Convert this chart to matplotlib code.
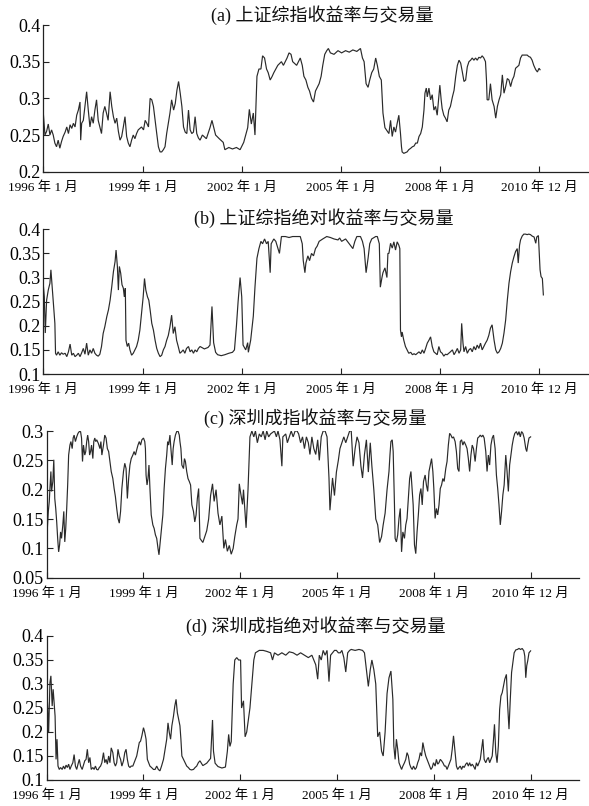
import matplotlib
matplotlib.use('Agg')
import matplotlib.pyplot as plt
from matplotlib.ticker import FuncFormatter

plt.rcParams['font.family'] = ['Liberation Serif', 'Noto Sans CJK SC']

# ---------------- data ----------------
tick_years = [1996, 1999, 2002, 2005, 2008, 2011]
tick_labels = ['1996 年 1 月', '1999 年 1 月', '2002 年 1 月', '2005 年 1 月', '2008 年 1 月', '2010 年 12 月']
titles = ['(a) 上证综指收益率与交易量', '(b) 上证综指绝对收益率与交易量',
          '(c) 深圳成指收益率与交易量', '(d) 深圳成指绝对收益率与交易量']

a_year = [1996.00, 1996.05, 1996.10, 1996.15, 1996.20, 1996.25, 1996.30, 1996.35, 1996.40, 1996.45,
          1996.50, 1996.55, 1996.60, 1996.66, 1996.71, 1996.76, 1996.81, 1996.86, 1996.91, 1996.96,
          1997.01, 1997.06, 1997.11, 1997.13, 1997.16, 1997.21, 1997.26, 1997.31, 1997.36, 1997.41,
          1997.46, 1997.51, 1997.56, 1997.61, 1997.66, 1997.71, 1997.76, 1997.81, 1997.86, 1997.91,
          1997.96, 1998.02, 1998.07, 1998.12, 1998.17, 1998.22, 1998.27, 1998.32, 1998.37, 1998.42,
          1998.47, 1998.52, 1998.57, 1998.62, 1998.67, 1998.72, 1998.77, 1998.82, 1998.87, 1998.92,
          1998.97, 1999.03, 1999.08, 1999.13, 1999.18, 1999.23, 1999.28, 1999.33, 1999.38, 1999.43,
          1999.48, 1999.53, 1999.58, 1999.63, 1999.68, 1999.73, 1999.78, 1999.83, 1999.88, 1999.94,
          1999.99, 2000.04, 2000.09, 2000.14, 2000.19, 2000.24, 2000.29, 2000.34, 2000.39, 2000.44,
          2000.49, 2000.54, 2000.59, 2000.64, 2000.69, 2000.74,
          2000.81, 2000.93, 2001.04, 2001.10, 2001.21, 2001.32, 2001.44, 2001.49, 2001.61, 2001.72,
          2001.84, 2001.95, 2002.06, 2002.12, 2002.18, 2002.23, 2002.29, 2002.35, 2002.40, 2002.46,
          2002.52, 2002.58, 2002.63, 2002.69, 2002.75, 2002.80, 2002.86, 2002.92, 2002.97, 2003.09,
          2003.20, 2003.26, 2003.37, 2003.43, 2003.49, 2003.54, 2003.66, 2003.77, 2003.83, 2003.88,
          2003.94, 2004.00, 2004.05, 2004.11, 2004.17, 2004.23, 2004.34, 2004.40, 2004.45, 2004.51,
          2004.57, 2004.62, 2004.68, 2004.79, 2004.91, 2005.02, 2005.14, 2005.25, 2005.36, 2005.48,
          2005.59, 2005.65, 2005.70, 2005.76, 2005.82, 2005.87, 2005.93, 2005.99, 2006.05, 2006.10,
          2006.16, 2006.22, 2006.27, 2006.33,
          2006.45, 2006.50, 2006.55, 2006.60, 2006.65, 2006.70, 2006.75, 2006.80, 2006.83, 2006.85,
          2006.90, 2006.95, 2007.00, 2007.05, 2007.11, 2007.16, 2007.21, 2007.26, 2007.31, 2007.36,
          2007.41, 2007.46, 2007.51, 2007.54, 2007.58, 2007.61, 2007.66, 2007.71, 2007.76, 2007.81,
          2007.86, 2007.91, 2007.96, 2007.99, 2008.03, 2008.06, 2008.11, 2008.16, 2008.21, 2008.26,
          2008.31, 2008.37, 2008.42, 2008.47, 2008.52, 2008.57, 2008.62, 2008.67, 2008.72, 2008.77,
          2008.82, 2008.87, 2008.92, 2008.97, 2009.02, 2009.07, 2009.12, 2009.17, 2009.22, 2009.27,
          2009.32, 2009.37, 2009.40, 2009.42, 2009.47, 2009.52, 2009.57, 2009.63, 2009.68, 2009.73,
          2009.78, 2009.83, 2009.88, 2009.93, 2009.98, 2010.03, 2010.08, 2010.13, 2010.18, 2010.23,
          2010.28, 2010.33, 2010.38, 2010.43, 2010.48, 2010.53, 2010.58, 2010.63, 2010.68, 2010.73,
          2010.78, 2010.83, 2010.89, 2010.94, 2010.99, 2011.02]
a_val = [0.280, 0.250, 0.255, 0.265, 0.250, 0.257, 0.250, 0.239, 0.234, 0.243,
         0.232, 0.241, 0.248, 0.254, 0.261, 0.252, 0.264, 0.259, 0.266, 0.261,
         0.277, 0.284, 0.295, 0.243, 0.266, 0.270, 0.289, 0.309, 0.284, 0.261,
         0.275, 0.266, 0.284, 0.298, 0.270, 0.261, 0.252, 0.280, 0.289, 0.280,
         0.270, 0.309, 0.289, 0.275, 0.266, 0.273, 0.255, 0.243, 0.248, 0.261,
         0.275, 0.248, 0.239, 0.234, 0.243, 0.250, 0.245, 0.252, 0.257, 0.259,
         0.261, 0.257, 0.270, 0.266, 0.261, 0.300, 0.298, 0.289, 0.270, 0.252,
         0.234, 0.227, 0.227, 0.230, 0.234, 0.252, 0.266, 0.280, 0.298, 0.284,
         0.293, 0.311, 0.323, 0.307, 0.289, 0.261, 0.254, 0.252, 0.284, 0.257,
         0.252, 0.254, 0.275, 0.252, 0.246, 0.243,
         0.250, 0.245, 0.260, 0.270, 0.250, 0.245, 0.240, 0.230, 0.233, 0.231,
         0.233, 0.230, 0.240, 0.250, 0.260, 0.285, 0.265, 0.280, 0.250, 0.330,
         0.340, 0.340, 0.358, 0.355, 0.340, 0.335, 0.325, 0.330, 0.335, 0.345,
         0.350, 0.345, 0.355, 0.362, 0.360, 0.350, 0.345, 0.355, 0.345, 0.330,
         0.325, 0.315, 0.310, 0.300, 0.295, 0.310, 0.320, 0.330, 0.345, 0.360,
         0.365, 0.368, 0.362, 0.360, 0.365, 0.362, 0.365, 0.363, 0.366, 0.364,
         0.368, 0.355, 0.350, 0.320, 0.315, 0.325, 0.335, 0.340, 0.355, 0.345,
         0.330, 0.325, 0.280, 0.260,
         0.252, 0.270, 0.248, 0.261, 0.254, 0.266, 0.277, 0.252, 0.234, 0.227,
         0.225, 0.226, 0.227, 0.230, 0.232, 0.234, 0.235, 0.239, 0.239, 0.248,
         0.252, 0.261, 0.284, 0.307, 0.314, 0.302, 0.314, 0.298, 0.305, 0.284,
         0.289, 0.277, 0.302, 0.318, 0.298, 0.286, 0.277, 0.273, 0.268, 0.284,
         0.289, 0.302, 0.311, 0.330, 0.345, 0.352, 0.348, 0.336, 0.323, 0.325,
         0.343, 0.350, 0.352, 0.355, 0.352, 0.355, 0.352, 0.356, 0.355, 0.358,
         0.355, 0.350, 0.325, 0.298, 0.298, 0.320, 0.298, 0.289, 0.273, 0.289,
         0.298, 0.305, 0.332, 0.307, 0.316, 0.327, 0.325, 0.316, 0.325, 0.330,
         0.341, 0.343, 0.345, 0.355, 0.359, 0.359, 0.359, 0.359, 0.357, 0.356,
         0.352, 0.345, 0.339, 0.336, 0.341, 0.339]

b_year = [1996.00, 1996.03, 1996.06, 1996.10, 1996.15, 1996.20, 1996.23, 1996.27, 1996.30, 1996.33,
          1996.35, 1996.37, 1996.40, 1996.45, 1996.50, 1996.55, 1996.60, 1996.66, 1996.71, 1996.76,
          1996.81, 1996.86, 1996.91, 1996.96, 1997.01, 1997.06, 1997.11, 1997.16, 1997.21, 1997.26,
          1997.31, 1997.36, 1997.41, 1997.46, 1997.51, 1997.56, 1997.61, 1997.66, 1997.71, 1997.76,
          1997.81, 1997.86, 1997.92, 1997.97, 1998.02, 1998.07, 1998.12, 1998.17, 1998.20, 1998.24,
          1998.27, 1998.30, 1998.34, 1998.38, 1998.42, 1998.45, 1998.48, 1998.50, 1998.54, 1998.58,
          1998.62, 1998.67, 1998.72, 1998.77, 1998.82, 1998.87, 1998.92, 1998.97, 1999.02, 1999.06,
          1999.10, 1999.15, 1999.19, 1999.23, 1999.28, 1999.33, 1999.38, 1999.43, 1999.48, 1999.53,
          1999.58, 1999.63, 1999.68, 1999.73, 1999.78, 1999.83, 1999.88, 1999.93, 1999.98, 2000.03,
          2000.08, 2000.13, 2000.18, 2000.23, 2000.28, 2000.33, 2000.39, 2000.44, 2000.49, 2000.54,
          2000.59, 2000.64, 2000.69, 2000.74,
          2000.87, 2000.98, 2001.04, 2001.10, 2001.15, 2001.21, 2001.27, 2001.38, 2001.49, 2001.61,
          2001.72, 2001.78, 2001.84, 2001.89, 2001.95, 2002.00, 2002.04, 2002.12, 2002.18, 2002.20,
          2002.27, 2002.35, 2002.40, 2002.46, 2002.52, 2002.58, 2002.63, 2002.69, 2002.75, 2002.80,
          2002.86, 2002.89, 2002.97, 2003.03, 2003.14, 2003.20, 2003.32, 2003.43, 2003.54, 2003.66,
          2003.77, 2003.83, 2003.86, 2003.91, 2003.94, 2004.00, 2004.05, 2004.11, 2004.17, 2004.23,
          2004.28, 2004.34, 2004.45, 2004.57, 2004.68, 2004.79, 2004.91, 2004.96, 2005.02, 2005.14,
          2005.25, 2005.36, 2005.42, 2005.48, 2005.59, 2005.65, 2005.70, 2005.76, 2005.82, 2005.87,
          2005.93, 2006.05, 2006.10, 2006.16, 2006.19, 2006.24, 2006.27, 2006.33, 2006.39, 2006.42,
          2006.45, 2006.50, 2006.55, 2006.60, 2006.65, 2006.70, 2006.75, 2006.78, 2006.80, 2006.83,
          2006.85, 2006.90, 2006.95, 2007.00, 2007.05, 2007.11, 2007.16, 2007.21, 2007.26, 2007.31,
          2007.36, 2007.41, 2007.46, 2007.51, 2007.56, 2007.61, 2007.66, 2007.71, 2007.76, 2007.81,
          2007.86, 2007.91, 2007.96, 2008.01, 2008.06, 2008.11, 2008.16, 2008.21, 2008.26, 2008.31,
          2008.37, 2008.42, 2008.47, 2008.52, 2008.57, 2008.62, 2008.65, 2008.69, 2008.72, 2008.77,
          2008.82, 2008.87, 2008.92, 2008.97, 2009.02, 2009.07, 2009.12, 2009.17, 2009.22, 2009.27,
          2009.32, 2009.37, 2009.42, 2009.47, 2009.52, 2009.57, 2009.63, 2009.68, 2009.73, 2009.78,
          2009.83, 2009.88, 2009.93, 2009.98, 2010.03, 2010.08, 2010.13, 2010.18, 2010.23, 2010.28,
          2010.33, 2010.36, 2010.40, 2010.43, 2010.48, 2010.53, 2010.58, 2010.63, 2010.68, 2010.73,
          2010.78, 2010.84, 2010.89, 2010.92, 2010.97, 2010.99, 2011.02, 2011.05, 2011.09, 2011.12]
b_val = [0.285, 0.260, 0.185, 0.253, 0.274, 0.288, 0.316, 0.280, 0.253, 0.226,
         0.205, 0.143, 0.139, 0.146, 0.139, 0.144, 0.141, 0.143, 0.136, 0.146,
         0.162, 0.139, 0.143, 0.136, 0.139, 0.143, 0.136, 0.144, 0.153, 0.141,
         0.164, 0.139, 0.150, 0.143, 0.153, 0.143, 0.139, 0.137, 0.141, 0.157,
         0.184, 0.198, 0.219, 0.233, 0.253, 0.281, 0.312, 0.333, 0.357, 0.323,
         0.274, 0.323, 0.309, 0.285, 0.278, 0.260, 0.278, 0.170, 0.157, 0.164,
         0.150, 0.139, 0.143, 0.150, 0.157, 0.170, 0.191, 0.226, 0.260, 0.298,
         0.274, 0.260, 0.253, 0.233, 0.205, 0.191, 0.170, 0.153, 0.143, 0.136,
         0.139, 0.150, 0.157, 0.170, 0.180, 0.198, 0.222, 0.184, 0.198, 0.170,
         0.157, 0.143, 0.146, 0.150, 0.143, 0.153, 0.157, 0.146, 0.150, 0.143,
         0.150, 0.146, 0.153, 0.157,
         0.152, 0.155, 0.160, 0.240, 0.165, 0.145, 0.140, 0.138, 0.140, 0.143,
         0.145, 0.150, 0.200, 0.250, 0.300, 0.260, 0.160, 0.150, 0.165, 0.145,
         0.170, 0.220, 0.280, 0.340, 0.360, 0.375, 0.370, 0.380, 0.370, 0.375,
         0.310, 0.370, 0.380, 0.375, 0.350, 0.385, 0.385, 0.383, 0.385, 0.385,
         0.385, 0.370, 0.335, 0.310, 0.330, 0.345, 0.335, 0.350, 0.345, 0.360,
         0.365, 0.375, 0.380, 0.385, 0.383, 0.380, 0.378, 0.382, 0.375, 0.380,
         0.370, 0.360, 0.375, 0.385, 0.385, 0.375, 0.360, 0.310, 0.340, 0.370,
         0.380, 0.385, 0.385, 0.370, 0.280, 0.300, 0.310, 0.320, 0.300, 0.350,
         0.350, 0.371, 0.361, 0.374, 0.357, 0.374, 0.367, 0.360, 0.191, 0.177,
         0.187, 0.170, 0.157, 0.150, 0.143, 0.145, 0.140, 0.142, 0.140, 0.143,
         0.146, 0.142, 0.150, 0.143, 0.153, 0.164, 0.170, 0.177, 0.157, 0.146,
         0.143, 0.140, 0.157, 0.146, 0.143, 0.137, 0.141, 0.140, 0.143, 0.146,
         0.150, 0.140, 0.146, 0.153, 0.143, 0.150, 0.205, 0.164, 0.146, 0.157,
         0.143, 0.150, 0.153, 0.146, 0.157, 0.150, 0.160, 0.153, 0.164, 0.150,
         0.157, 0.164, 0.170, 0.180, 0.195, 0.202, 0.170, 0.150, 0.143, 0.146,
         0.153, 0.164, 0.185, 0.212, 0.253, 0.288, 0.312, 0.330, 0.343, 0.354,
         0.360, 0.330, 0.367, 0.378, 0.386, 0.390, 0.390, 0.389, 0.390, 0.389,
         0.386, 0.384, 0.371, 0.384, 0.387, 0.357, 0.316, 0.302, 0.298, 0.264]

c_year = [1996.00, 1996.02, 1996.05, 1996.08, 1996.10, 1996.13, 1996.15, 1996.19, 1996.22, 1996.25,
          1996.28, 1996.31, 1996.34, 1996.37, 1996.40, 1996.43, 1996.46, 1996.50, 1996.53, 1996.56,
          1996.59, 1996.62, 1996.65, 1996.68, 1996.72, 1996.75, 1996.79, 1996.82, 1996.85, 1996.89,
          1996.93, 1996.97, 1997.01, 1997.05, 1997.08, 1997.11, 1997.14, 1997.18, 1997.21, 1997.24,
          1997.27, 1997.30, 1997.33, 1997.36, 1997.39, 1997.43, 1997.46, 1997.49, 1997.52, 1997.55,
          1997.60, 1997.65, 1997.68, 1997.71, 1997.76, 1997.80, 1997.84, 1997.88, 1997.92, 1997.96,
          1998.00, 1998.05, 1998.09, 1998.13, 1998.17, 1998.21, 1998.25, 1998.29, 1998.33, 1998.38,
          1998.42, 1998.46, 1998.50, 1998.54, 1998.58, 1998.62, 1998.67, 1998.71, 1998.75, 1998.79,
          1998.83, 1998.87, 1998.91, 1998.95, 1999.00, 1999.04, 1999.06, 1999.08, 1999.11, 1999.14,
          1999.17, 1999.20, 1999.24, 1999.29, 1999.33, 1999.37, 1999.41, 1999.45, 1999.48, 1999.51,
          1999.55, 1999.60, 1999.64, 1999.68, 1999.72, 1999.75, 1999.78, 1999.82, 1999.85, 1999.89,
          1999.92, 1999.95, 1999.99, 2000.03, 2000.07, 2000.11, 2000.13, 2000.16, 2000.19, 2000.24,
          2000.27, 2000.30, 2000.34, 2000.38, 2000.42, 2000.46, 2000.50, 2000.55, 2000.59, 2000.63,
          2000.67, 2000.71, 2000.75,
          2000.84, 2000.90, 2000.96, 2001.02, 2001.08, 2001.14, 2001.19, 2001.25, 2001.31, 2001.37,
          2001.43, 2001.49, 2001.54, 2001.60, 2001.66, 2001.72, 2001.78, 2001.83, 2001.89, 2001.93,
          2001.97, 2002.01, 2002.07, 2002.10, 2002.15, 2002.18, 2002.24, 2002.30, 2002.36, 2002.42,
          2002.47, 2002.53, 2002.59, 2002.65, 2002.71, 2002.77, 2002.82, 2002.88, 2002.94, 2003.06,
          2003.12, 2003.17, 2003.23, 2003.29, 2003.32, 2003.41, 2003.46, 2003.52, 2003.58, 2003.64,
          2003.70, 2003.76, 2003.81, 2003.87, 2003.93, 2003.99, 2004.05, 2004.11, 2004.16, 2004.22,
          2004.28, 2004.34, 2004.40, 2004.45, 2004.51, 2004.57, 2004.63, 2004.69, 2004.75, 2004.78,
          2004.83, 2004.86, 2004.92, 2004.98, 2005.04, 2005.09, 2005.15, 2005.21, 2005.27, 2005.33,
          2005.39, 2005.44, 2005.50, 2005.56, 2005.62, 2005.68, 2005.74, 2005.79, 2005.85, 2005.91,
          2005.97, 2006.03, 2006.08, 2006.14, 2006.20, 2006.26, 2006.32, 2006.38, 2006.43, 2006.49,
          2006.55,
          2006.61, 2006.64, 2006.67, 2006.71, 2006.74, 2006.78, 2006.80, 2006.84, 2006.88, 2006.92,
          2006.96, 2007.00, 2007.04, 2007.09, 2007.13, 2007.17, 2007.21, 2007.25, 2007.29, 2007.33,
          2007.36, 2007.40, 2007.44, 2007.48, 2007.52, 2007.56, 2007.60, 2007.64, 2007.68, 2007.73,
          2007.77, 2007.81, 2007.85, 2007.89, 2007.93, 2007.97, 2008.00, 2008.04, 2008.08, 2008.12,
          2008.16, 2008.20, 2008.24, 2008.28, 2008.32, 2008.37, 2008.41, 2008.45, 2008.49, 2008.53,
          2008.57, 2008.61, 2008.66, 2008.70, 2008.74, 2008.78, 2008.82, 2008.86, 2008.90, 2008.94,
          2008.99, 2009.03, 2009.07, 2009.11, 2009.15, 2009.19, 2009.23, 2009.28, 2009.32, 2009.36,
          2009.40, 2009.44, 2009.48, 2009.52, 2009.56, 2009.61, 2009.65, 2009.69, 2009.73, 2009.77,
          2009.81, 2009.85, 2009.90, 2009.94, 2009.98, 2010.02, 2010.06, 2010.10, 2010.14, 2010.18,
          2010.23, 2010.27, 2010.31, 2010.35, 2010.39, 2010.43, 2010.47, 2010.51, 2010.56, 2010.60,
          2010.64, 2010.68, 2010.72, 2010.76, 2010.80, 2010.85, 2010.88, 2010.91, 2010.95, 2011.00]
c_val = [0.174, 0.134, 0.163, 0.180, 0.202, 0.231, 0.197, 0.214, 0.251, 0.185,
         0.168, 0.145, 0.117, 0.094, 0.106, 0.128, 0.117, 0.140, 0.163, 0.111,
         0.134, 0.168, 0.208, 0.259, 0.276, 0.282, 0.270, 0.288, 0.293, 0.282,
         0.290, 0.296, 0.299, 0.299, 0.288, 0.248, 0.276, 0.259, 0.265, 0.282,
         0.293, 0.282, 0.259, 0.265, 0.276, 0.253, 0.282, 0.288, 0.282, 0.285,
         0.279, 0.270, 0.282, 0.259, 0.276, 0.293, 0.288, 0.270, 0.265, 0.248,
         0.231, 0.219, 0.202, 0.188, 0.168, 0.151, 0.143, 0.163, 0.202, 0.231,
         0.245, 0.236, 0.185, 0.219, 0.242, 0.253, 0.259, 0.265, 0.259, 0.268,
         0.276, 0.282, 0.276, 0.285, 0.288, 0.282, 0.270, 0.225, 0.208, 0.219,
         0.242, 0.202, 0.157, 0.140, 0.134, 0.123, 0.117, 0.100, 0.089, 0.106,
         0.128, 0.157, 0.202, 0.236, 0.259, 0.282, 0.276, 0.293, 0.270, 0.242,
         0.270, 0.282, 0.293, 0.299, 0.300, 0.293, 0.282, 0.270, 0.242, 0.236,
         0.253, 0.248, 0.231, 0.219, 0.214, 0.208, 0.174, 0.163, 0.145, 0.157,
         0.185, 0.202, 0.117,
         0.110, 0.120, 0.130, 0.150, 0.190, 0.210, 0.180, 0.200, 0.160, 0.140,
         0.155, 0.100, 0.115, 0.095, 0.105, 0.090, 0.100, 0.120, 0.140, 0.150,
         0.210, 0.195, 0.175, 0.200, 0.160, 0.135, 0.200, 0.290, 0.300, 0.290,
         0.300, 0.280, 0.295, 0.290, 0.300, 0.285, 0.300, 0.290, 0.295, 0.300,
         0.290, 0.300, 0.285, 0.240, 0.290, 0.295, 0.280, 0.290, 0.300, 0.290,
         0.300, 0.300, 0.295, 0.280, 0.290, 0.270, 0.290, 0.280, 0.260, 0.290,
         0.270, 0.260, 0.285, 0.250, 0.290, 0.300, 0.300, 0.290, 0.220, 0.165,
         0.200, 0.220, 0.190, 0.230, 0.250, 0.270, 0.280, 0.290, 0.280, 0.290,
         0.300, 0.300, 0.240, 0.270, 0.290, 0.280, 0.240, 0.220, 0.260, 0.285,
         0.230, 0.280, 0.240, 0.200, 0.150, 0.140, 0.110, 0.120, 0.140, 0.160,
         0.200,
         0.231, 0.259, 0.282, 0.285, 0.265, 0.174, 0.117, 0.111, 0.123, 0.151,
         0.168, 0.094, 0.128, 0.117, 0.140, 0.151, 0.185, 0.219, 0.231, 0.197,
         0.174, 0.106, 0.091, 0.128, 0.157, 0.191, 0.202, 0.174, 0.214, 0.225,
         0.208, 0.197, 0.231, 0.242, 0.253, 0.231, 0.202, 0.151, 0.168, 0.157,
         0.174, 0.202, 0.208, 0.219, 0.214, 0.236, 0.248, 0.276, 0.296, 0.293,
         0.288, 0.290, 0.282, 0.265, 0.236, 0.231, 0.282, 0.285, 0.276, 0.282,
         0.276, 0.270, 0.253, 0.231, 0.259, 0.276, 0.270, 0.248, 0.270, 0.288,
         0.290, 0.293, 0.290, 0.293, 0.288, 0.265, 0.231, 0.259, 0.242, 0.276,
         0.288, 0.293, 0.270, 0.225, 0.202, 0.174, 0.140, 0.163, 0.191, 0.208,
         0.259, 0.231, 0.197, 0.242, 0.259, 0.276, 0.288, 0.296, 0.299, 0.293,
         0.299, 0.290, 0.299, 0.296, 0.288, 0.270, 0.265, 0.276, 0.288, 0.290]

d_year = [1996.00, 1996.03, 1996.06, 1996.10, 1996.13, 1996.17, 1996.20, 1996.23, 1996.26, 1996.29,
          1996.32, 1996.35, 1996.39, 1996.43, 1996.48, 1996.52, 1996.56, 1996.60, 1996.64, 1996.68,
          1996.72, 1996.76, 1996.81, 1996.85, 1996.89, 1996.93, 1996.97, 1997.01, 1997.05, 1997.10,
          1997.14, 1997.18, 1997.22, 1997.26, 1997.30, 1997.34, 1997.38, 1997.43, 1997.47, 1997.51,
          1997.55, 1997.59, 1997.63, 1997.67, 1997.71, 1997.76, 1997.80, 1997.84, 1997.88, 1997.92,
          1997.96, 1998.00, 1998.05, 1998.09, 1998.13, 1998.17, 1998.21, 1998.25, 1998.29, 1998.33,
          1998.38, 1998.42, 1998.46, 1998.50, 1998.54, 1998.58, 1998.62, 1998.67, 1998.71, 1998.75,
          1998.79, 1998.83, 1998.87, 1998.91, 1998.95, 1999.00, 1999.04, 1999.08, 1999.12, 1999.16,
          1999.20, 1999.25, 1999.31, 1999.36, 1999.41, 1999.46, 1999.51, 1999.56, 1999.62, 1999.67,
          1999.72, 1999.76, 1999.80, 1999.84, 1999.88, 1999.93, 1999.97, 2000.01, 2000.05, 2000.09,
          2000.13, 2000.16, 2000.19, 2000.24, 2000.29, 2000.34, 2000.39, 2000.44, 2000.49, 2000.55,
          2000.60, 2000.65, 2000.70, 2000.75,
          2000.84, 2000.96, 2001.02, 2001.08, 2001.14, 2001.17, 2001.22, 2001.31, 2001.43, 2001.54,
          2001.60, 2001.64, 2001.68, 2001.72, 2001.78, 2001.83, 2001.89, 2001.95, 2002.01, 2002.04,
          2002.10, 2002.15, 2002.20, 2002.24, 2002.30, 2002.36, 2002.42, 2002.47, 2002.59, 2002.71,
          2002.82, 2002.94, 2003.00, 2003.06, 2003.17, 2003.29, 2003.41, 2003.52, 2003.64, 2003.76,
          2003.87, 2003.99, 2004.11, 2004.22, 2004.34, 2004.40, 2004.45, 2004.51, 2004.57, 2004.63,
          2004.69, 2004.75, 2004.80, 2004.86, 2004.92, 2004.98, 2005.04, 2005.10, 2005.15, 2005.21,
          2005.27, 2005.33, 2005.39, 2005.44, 2005.56, 2005.68, 2005.79, 2005.85, 2005.91, 2005.97,
          2006.03, 2006.08, 2006.14, 2006.20, 2006.26, 2006.32, 2006.38, 2006.43, 2006.49, 2006.55,
          2006.61, 2006.64, 2006.67, 2006.70, 2006.73, 2006.76, 2006.80, 2006.84, 2006.88, 2006.92,
          2006.96, 2007.00, 2007.04, 2007.09, 2007.13, 2007.17, 2007.21, 2007.25, 2007.29, 2007.33,
          2007.37, 2007.42, 2007.46, 2007.50, 2007.54, 2007.58, 2007.62, 2007.66, 2007.70, 2007.75,
          2007.79, 2007.83, 2007.87, 2007.91, 2007.95, 2007.99, 2008.04, 2008.08, 2008.12, 2008.16,
          2008.20, 2008.24, 2008.28, 2008.33, 2008.37, 2008.41, 2008.45, 2008.49, 2008.53, 2008.57,
          2008.61, 2008.66, 2008.70, 2008.74, 2008.78, 2008.82, 2008.86, 2008.90, 2008.94, 2008.99,
          2009.03, 2009.07, 2009.11, 2009.15, 2009.19, 2009.23, 2009.28, 2009.32, 2009.36, 2009.40,
          2009.44, 2009.48, 2009.52, 2009.56, 2009.61, 2009.65, 2009.69, 2009.73, 2009.77, 2009.81,
          2009.85, 2009.88, 2009.92, 2009.96, 2010.00, 2010.04, 2010.08, 2010.12, 2010.16, 2010.20,
          2010.25, 2010.29, 2010.33, 2010.37, 2010.41, 2010.45, 2010.49, 2010.54, 2010.59, 2010.64,
          2010.69, 2010.74, 2010.79, 2010.82, 2010.85, 2010.88, 2010.91, 2010.95, 2011.00]
d_val = [0.289, 0.254, 0.199, 0.303, 0.317, 0.254, 0.289, 0.261, 0.233, 0.143,
         0.185, 0.129, 0.122, 0.126, 0.122, 0.129, 0.123, 0.131, 0.126, 0.133,
         0.122, 0.129, 0.136, 0.153, 0.129, 0.122, 0.133, 0.143, 0.129, 0.122,
         0.131, 0.140, 0.143, 0.164, 0.136, 0.147, 0.122, 0.126, 0.122, 0.129,
         0.122, 0.121, 0.126, 0.129, 0.136, 0.157, 0.136, 0.143, 0.133, 0.150,
         0.136, 0.167, 0.157, 0.136, 0.129, 0.136, 0.164, 0.150, 0.143, 0.129,
         0.140, 0.157, 0.164, 0.143, 0.129, 0.126, 0.129, 0.129, 0.136, 0.143,
         0.150, 0.164, 0.178, 0.181, 0.192, 0.209, 0.199, 0.185, 0.143, 0.136,
         0.129, 0.126, 0.122, 0.122, 0.129, 0.122, 0.119, 0.129, 0.143, 0.164,
         0.185, 0.219, 0.199, 0.185, 0.213, 0.233, 0.254, 0.268, 0.240, 0.226,
         0.213, 0.185, 0.150, 0.143, 0.136, 0.129, 0.126, 0.122, 0.121, 0.122,
         0.126, 0.129, 0.136, 0.140,
         0.130, 0.135, 0.140, 0.145, 0.225, 0.160, 0.135, 0.128, 0.125, 0.127,
         0.160, 0.195, 0.170, 0.180, 0.300, 0.350, 0.355, 0.350, 0.350, 0.250,
         0.265, 0.190, 0.200, 0.220, 0.250, 0.300, 0.350, 0.365, 0.370, 0.370,
         0.368, 0.365, 0.350, 0.365, 0.360, 0.365, 0.360, 0.367, 0.365, 0.360,
         0.365, 0.360, 0.355, 0.360, 0.340, 0.310, 0.360, 0.350, 0.370, 0.360,
         0.370, 0.305, 0.360, 0.365, 0.370, 0.370, 0.365, 0.365, 0.370, 0.355,
         0.325, 0.365, 0.370, 0.372, 0.370, 0.372, 0.370, 0.365, 0.330, 0.295,
         0.330, 0.350, 0.330, 0.300, 0.190, 0.200, 0.160, 0.150, 0.200, 0.280,
         0.313, 0.320, 0.327, 0.296, 0.268, 0.171, 0.143, 0.185, 0.164, 0.136,
         0.129, 0.122, 0.129, 0.136, 0.143, 0.157, 0.150, 0.133, 0.126, 0.122,
         0.129, 0.122, 0.126, 0.136, 0.143, 0.157, 0.150, 0.178, 0.164, 0.150,
         0.143, 0.136, 0.129, 0.122, 0.126, 0.136, 0.129, 0.143, 0.133, 0.136,
         0.143, 0.140, 0.136, 0.129, 0.129, 0.122, 0.129, 0.136, 0.143, 0.164,
         0.192, 0.157, 0.129, 0.122, 0.126, 0.129, 0.122, 0.129, 0.126, 0.133,
         0.136, 0.129, 0.136, 0.129, 0.133, 0.129, 0.122, 0.136, 0.129, 0.136,
         0.143, 0.164, 0.185, 0.143, 0.136, 0.143, 0.147, 0.136, 0.143, 0.150,
         0.185, 0.216, 0.157, 0.136, 0.171, 0.247, 0.275, 0.282, 0.296, 0.310,
         0.320, 0.254, 0.206, 0.268, 0.324, 0.344, 0.365, 0.371, 0.372, 0.374,
         0.372, 0.374, 0.369, 0.358, 0.313, 0.338, 0.348, 0.365, 0.369]

y_limits = [(0.2, 0.4), (0.1, 0.4), (0.05, 0.3), (0.1, 0.4)]
series = [(a_year, a_val), (b_year, b_val), (c_year, c_val), (d_year, d_val)]

# ---------------- layout (pixels) ----------------
W, H = 589, 806
boxes = [(43.3, 25.0, 589.0, 171.7), (43.3, 229.3, 589.0, 374.0),
         (46.7, 431.0, 579.0, 577.7), (46.7, 636.0, 579.0, 780.0)]
title_pos = [(322, 15.5), (323.5, 218.5), (315, 418.5), (316, 626)]

fig = plt.figure(figsize=(W / 100, H / 100), dpi=100)
fig.patch.set_facecolor('white')

for i in range(4):
    l, t, r, b = boxes[i]
    ax = fig.add_axes([l / W, 1 - b / H, (r - l) / W, (b - t) / H])
    xs, ys = series[i]
    ax.plot(xs, ys, color='#2a2a2a', lw=0.85, solid_joinstyle='miter')
    ax.set_xlim(1996, 2012.5)
    ax.set_ylim(*y_limits[i])
    lo, hi = y_limits[i]
    yt = [round(lo + 0.05 * k, 2) for k in range(int(round((hi - lo) / 0.05)) + 1)]
    ax.set_yticks(yt)
    ax.yaxis.set_major_formatter(FuncFormatter(lambda v, p: ('%g' % round(v, 2))))
    ax.set_xticks(tick_years)
    ax.set_xticklabels(tick_labels)
    for s in ['top', 'right']:
        ax.spines[s].set_visible(False)
    for s in ['left', 'bottom']:
        ax.spines[s].set_linewidth(0.9)
        ax.spines[s].set_color('#222222')
    ax.tick_params(axis='both', direction='in', length=4, width=0.8, color='#222222')
    ax.tick_params(axis='x', labelsize=9.5, pad=7)
    ax.tick_params(axis='y', labelsize=13, pad=2)
    fig.text(title_pos[i][0] / W, 1 - title_pos[i][1] / H, titles[i],
             ha='center', va='center', fontsize=13, color='#111111')

fig.savefig('out.png', dpi=100, facecolor='white')
